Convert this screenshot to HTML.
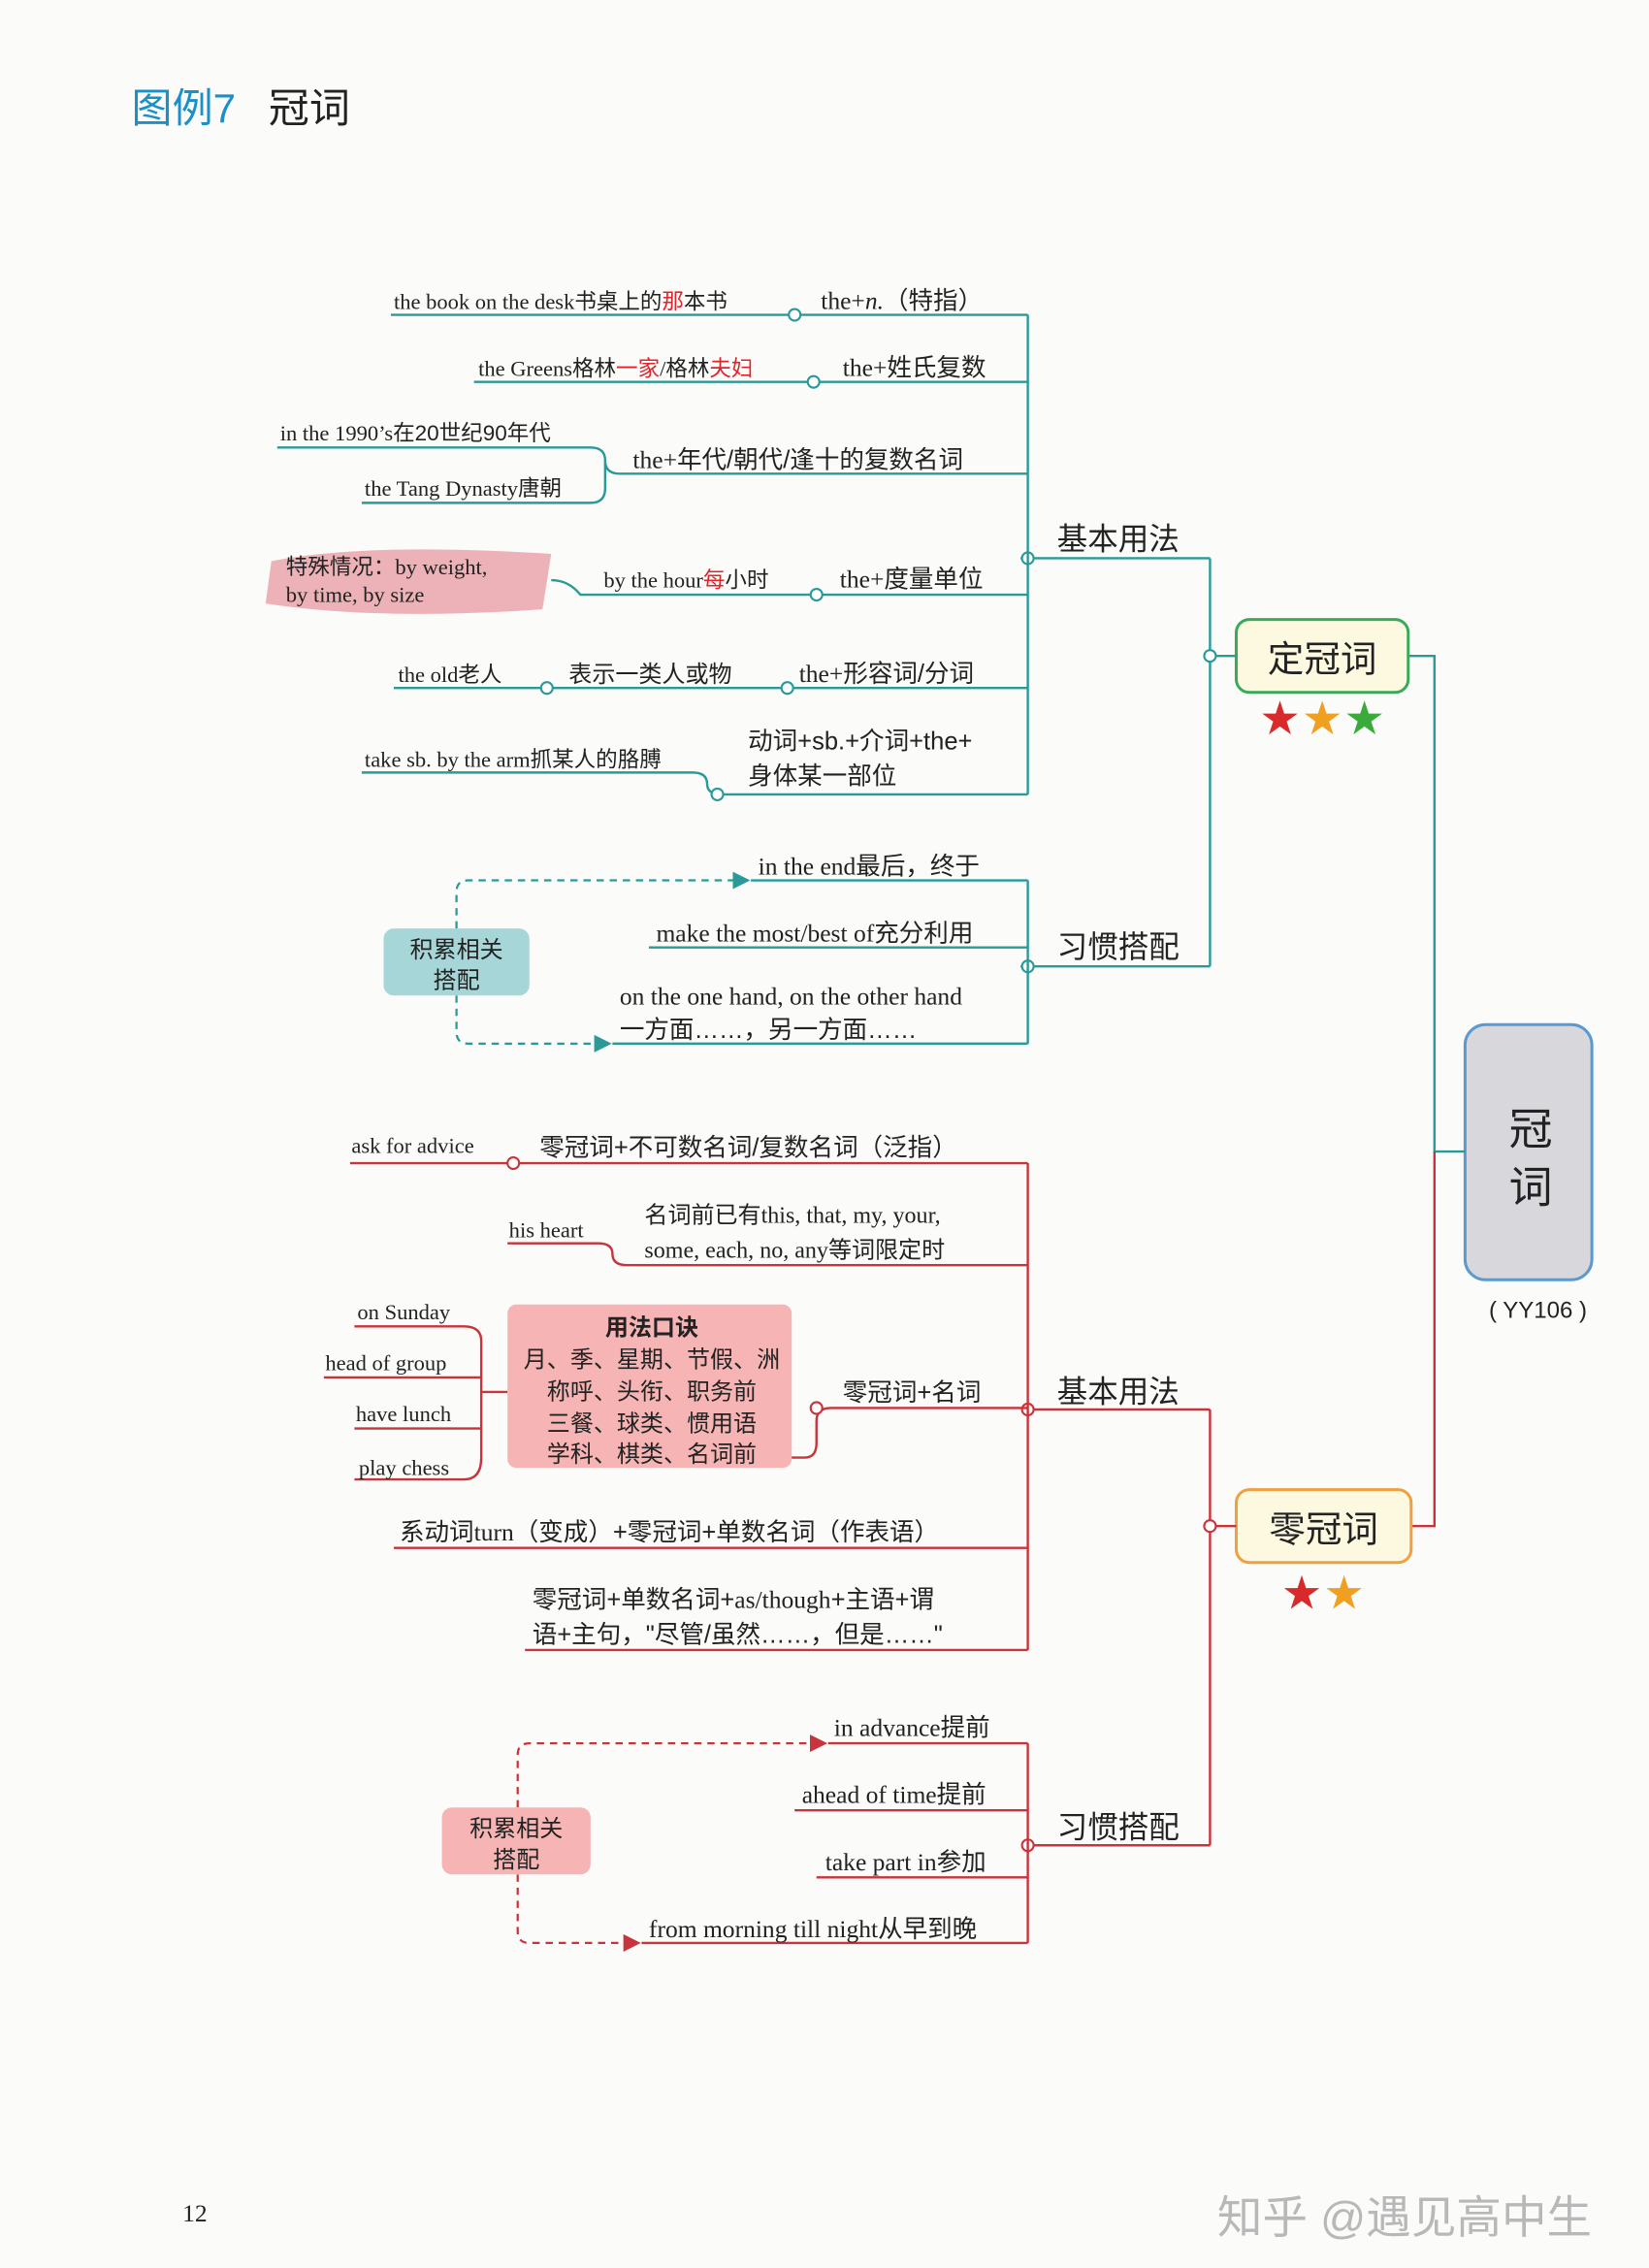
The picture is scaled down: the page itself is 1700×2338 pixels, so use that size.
<!DOCTYPE html>
<html><head><meta charset="utf-8"><style>
html,body{margin:0;padding:0;background:#fbfbf9;}
svg{display:block;}
text{font-family:"Liberation Serif","Noto Serif CJK SC","Noto Sans CJK SC",serif;font-size:16px;fill:#222;}
.cj{font-family:"Liberation Sans","Noto Sans CJK SC",sans-serif;}
.t{stroke:#2a9a98;stroke-width:1.6;fill:none;}
.r{stroke:#c8343c;stroke-width:1.6;fill:none;}
.ct{fill:#fff;stroke:#2a9a98;stroke-width:1.4;}
.cr{fill:#fff;stroke:#c8343c;stroke-width:1.4;}
.red{fill:#e0242c;}
</style></head><body>
<svg width="1700" height="2338" viewBox="0 0 1131 1556" xmlns="http://www.w3.org/2000/svg">
<defs>
<marker id="at" markerWidth="8" markerHeight="8" refX="7" refY="4" orient="auto"><path d="M0,0 L8,4 L0,8z" fill="#2a9a98"/></marker>
<marker id="ar" markerWidth="8" markerHeight="8" refX="7" refY="4" orient="auto"><path d="M0,0 L8,4 L0,8z" fill="#c8343c"/></marker>
</defs>
<rect width="1131" height="1556" fill="#fbfbf9"/>
<!-- title -->
<text x="90" y="84" class="cj" style="font-size:28px;fill:#1a8fc8">图例7</text>
<text x="184" y="84" class="cj" style="font-size:28px;fill:#222">冠词</text>

<!-- center node -->
<rect x="1005" y="703" width="87" height="175" rx="14" fill="#d8d8dc" stroke="#5a9ad0" stroke-width="2"/>
<text x="1050" y="785" class="cj" text-anchor="middle" style="font-size:30px">冠</text>
<text x="1050" y="825" class="cj" text-anchor="middle" style="font-size:30px">词</text>
<text x="1055" y="904" class="cj" text-anchor="middle" style="font-size:16px">( YY106 )</text>

<path class="t" d="M966,450 H984 V790 H1005"/>
<path class="r" d="M968,1047 H984 V790"/>

<!-- 定冠词 -->
<rect x="848" y="425" width="118" height="50" rx="9" fill="#fdf9e0" stroke="#3aaa5a" stroke-width="2"/>
<text x="907" y="461" class="cj" text-anchor="middle" style="font-size:25px">定冠词</text>
<text x="878" y="502" text-anchor="middle" style="font-size:26px;fill:#d82a2a" class="cj">★</text>
<text x="907" y="502" text-anchor="middle" style="font-size:26px;fill:#f0a020" class="cj">★</text>
<text x="936" y="502" text-anchor="middle" style="font-size:26px;fill:#3aaa3a" class="cj">★</text>
<path class="t" d="M830,383 V663"/>
<path class="t" d="M830,450 H848"/>
<circle class="ct" cx="830" cy="450" r="4"/>
<path class="t" d="M700,383 H830 M700,663 H830"/>
<text x="725" y="377" class="cj" style="font-size:21px">基本用法</text>
<text x="725" y="657" class="cj" style="font-size:21px">习惯搭配</text>
<circle class="ct" cx="705" cy="383" r="4"/>
<circle class="ct" cx="705" cy="663" r="4"/>

<path class="t" d="M705,216 V545"/>
<path class="t" d="M268,216 H705"/><circle class="ct" cx="545" cy="216" r="4"/>
<text x="270" y="212" style="font-size:15px">the book on the desk<tspan class="cj">书桌上的</tspan><tspan class="cj red">那</tspan><tspan class="cj">本书</tspan></text>
<text x="563" y="212" style="font-size:17px">the+<tspan font-style="italic">n.</tspan><tspan class="cj">（特指）</tspan></text>

<path class="t" d="M325,262 H705"/><circle class="ct" cx="558" cy="262" r="4"/>
<text x="328" y="258" style="font-size:15px">the Greens<tspan class="cj">格林</tspan><tspan class="cj red">一家</tspan>/<tspan class="cj">格林</tspan><tspan class="cj red">夫妇</tspan></text>
<text x="578" y="258" style="font-size:17px">the+<tspan class="cj">姓氏复数</tspan></text>

<path class="t" d="M190,307 H405 Q415,307 415,316 Q415,325 425,325 H705 M248,345 H405 Q415,345 415,335 V316"/>
<text x="192" y="302" style="font-size:15px">in the 1990’s<tspan class="cj">在20世纪90年代</tspan></text>
<text x="250" y="340" style="font-size:15px">the Tang Dynasty<tspan class="cj">唐朝</tspan></text>
<text x="434" y="321" style="font-size:17px">the+<tspan class="cj">年代/朝代/逢十的复数名词</tspan></text>

<path d="M186,385 Q250,372 378,380 L372,418 Q260,426 182,414z" fill="#e89aa0" opacity="0.75"/>
<text x="196" y="394" style="font-size:15px"><tspan class="cj">特殊情况：</tspan>by weight,</text>
<text x="196" y="413" style="font-size:15px">by time, by size</text>
<path class="t" d="M378,398 Q390,398 398,408 H705"/><circle class="ct" cx="560" cy="408" r="4"/>
<text x="414" y="403" style="font-size:15px">by the hour<tspan class="cj red">每</tspan><tspan class="cj">小时</tspan></text>
<text x="576" y="403" style="font-size:17px">the+<tspan class="cj">度量单位</tspan></text>

<path class="t" d="M270,472 H705"/><circle class="ct" cx="375" cy="472" r="4"/><circle class="ct" cx="540" cy="472" r="4"/>
<text x="273" y="468" style="font-size:15px">the old<tspan class="cj">老人</tspan></text>
<text x="390" y="468" class="cj" style="font-size:16px">表示一类人或物</text>
<text x="548" y="468" style="font-size:17px">the+<tspan class="cj">形容词/分词</tspan></text>

<path class="t" d="M248,530 H475 Q485,530 485,538 Q485,545 495,545 H705"/><circle class="ct" cx="492" cy="545" r="4"/>
<text x="250" y="526" style="font-size:15px">take sb. by the arm<tspan class="cj">抓某人的胳膊</tspan></text>
<text x="513" y="514" class="cj" style="font-size:17px">动词+sb.+介词+the+</text>
<text x="513" y="538" class="cj" style="font-size:17px">身体某一部位</text>

<path class="t" d="M705,604 V716"/>
<path class="t" d="M515,604 H705 M445,650 H705 M420,716 H705"/>
<text x="520" y="600" style="font-size:17px">in the end<tspan class="cj">最后，终于</tspan></text>
<text x="450" y="646" style="font-size:17px">make the most/best of<tspan class="cj">充分利用</tspan></text>
<text x="425" y="689" style="font-size:17px">on the one hand, on the other hand</text>
<text x="425" y="712" class="cj" style="font-size:17px">一方面……，另一方面……</text>
<path d="M313,637 V612 Q313,604 321,604 H513" stroke="#2a9a98" stroke-width="1.5" stroke-dasharray="5,4" fill="none" marker-end="url(#at)"/>
<path d="M313,683 V708 Q313,716 321,716 H418" stroke="#2a9a98" stroke-width="1.5" stroke-dasharray="5,4" fill="none" marker-end="url(#at)"/>
<rect x="263" y="637" width="100" height="46" rx="7" fill="#a6d6d8"/>
<text x="313" y="657" class="cj" text-anchor="middle" style="font-size:16px">积累相关</text>
<text x="313" y="678" class="cj" text-anchor="middle" style="font-size:16px">搭配</text>

<!-- 零冠词 -->
<rect x="848" y="1022" width="120" height="50" rx="9" fill="#fdf9e0" stroke="#f0a040" stroke-width="2"/>
<text x="908" y="1058" class="cj" text-anchor="middle" style="font-size:25px">零冠词</text>
<text x="893" y="1102" text-anchor="middle" style="font-size:26px;fill:#d82a2a" class="cj">★</text>
<text x="922" y="1102" text-anchor="middle" style="font-size:26px;fill:#f0a020" class="cj">★</text>
<path class="r" d="M830,967 V1266 M830,1047 H848"/>
<circle class="cr" cx="830" cy="1047" r="4"/>
<path class="r" d="M705,967 H830 M705,1266 H830"/>
<text x="725" y="962" class="cj" style="font-size:21px">基本用法</text>
<text x="725" y="1261" class="cj" style="font-size:21px">习惯搭配</text>
<circle class="cr" cx="705" cy="967" r="4"/>
<circle class="cr" cx="705" cy="1266" r="4"/>

<path class="r" d="M705,798 V1132"/>
<path class="r" d="M240,798 H705"/><circle class="cr" cx="352" cy="798" r="4"/>
<text x="241" y="791" style="font-size:15px">ask for advice</text>
<text x="370" y="793" class="cj" style="font-size:17px">零冠词+不可数名词/复数名词（泛指）</text>

<path class="r" d="M348,853 H410 Q420,853 420,860 Q420,868 430,868 H705"/>
<text x="349" y="849" style="font-size:15px">his heart</text>
<text x="442" y="839" style="font-size:16px"><tspan class="cj">名词前已有</tspan>this, that, my, your,</text>
<text x="442" y="863" style="font-size:16px">some, each, no, any<tspan class="cj">等词限定时</tspan></text>

<path class="r" d="M243,910 H318 Q330,910 330,920 V1000 Q330,1015 318,1015 H243 M222,945 H330 M243,980 H330 M330,955 H348"/>
<text x="245" y="905" style="font-size:15px">on Sunday</text>
<text x="223" y="940" style="font-size:15px">head of group</text>
<text x="244" y="975" style="font-size:15px">have lunch</text>
<text x="246" y="1012" style="font-size:15px">play chess</text>
<rect x="348" y="895" width="195" height="112" rx="6" fill="#f6b4b4"/>
<text x="447" y="916" class="cj" text-anchor="middle" style="font-size:16px;font-weight:bold">用法口诀</text>
<text x="447" y="938" class="cj" text-anchor="middle" style="font-size:16px">月、季、星期、节假、洲</text>
<text x="447" y="960" class="cj" text-anchor="middle" style="font-size:16px">称呼、头衔、职务前</text>
<text x="447" y="982" class="cj" text-anchor="middle" style="font-size:16px">三餐、球类、惯用语</text>
<text x="447" y="1003" class="cj" text-anchor="middle" style="font-size:16px">学科、棋类、名词前</text>
<path class="r" d="M543,1000 H552 Q560,1000 560,990 V975 Q560,966 570,966 H705"/><circle class="cr" cx="560" cy="966" r="4"/>
<text x="578" y="961" class="cj" style="font-size:17px">零冠词+名词</text>

<path class="r" d="M270,1062 H705"/>
<text x="274" y="1057" style="font-size:17px"><tspan class="cj">系动词</tspan>turn<tspan class="cj">（变成）+零冠词+单数名词（作表语）</tspan></text>

<path class="r" d="M360,1132 H705"/>
<text x="365" y="1103" style="font-size:17px"><tspan class="cj">零冠词+单数名词+</tspan>as/though<tspan class="cj">+主语+谓</tspan></text>
<text x="365" y="1127" class="cj" style="font-size:17px">语+主句，"尽管/虽然……，但是……"</text>

<path class="r" d="M705,1196 V1333"/>
<path class="r" d="M568,1196 H705 M545,1242 H705 M560,1288 H705 M440,1333 H705"/>
<text x="572" y="1191" style="font-size:17px">in advance<tspan class="cj">提前</tspan></text>
<text x="550" y="1237" style="font-size:17px">ahead of time<tspan class="cj">提前</tspan></text>
<text x="566" y="1283" style="font-size:17px">take part in<tspan class="cj">参加</tspan></text>
<text x="445" y="1329" style="font-size:17px">from morning till night<tspan class="cj">从早到晚</tspan></text>
<path d="M355,1240 V1204 Q355,1196 363,1196 H566" stroke="#c8343c" stroke-width="1.5" stroke-dasharray="5,4" fill="none" marker-end="url(#ar)"/>
<path d="M355,1286 V1325 Q355,1333 363,1333 H438" stroke="#c8343c" stroke-width="1.5" stroke-dasharray="5,4" fill="none" marker-end="url(#ar)"/>
<rect x="303" y="1240" width="102" height="46" rx="7" fill="#f6b4b4"/>
<text x="354" y="1260" class="cj" text-anchor="middle" style="font-size:16px">积累相关</text>
<text x="354" y="1281" class="cj" text-anchor="middle" style="font-size:16px">搭配</text>

<text x="125" y="1524" style="font-size:17px">12</text>
<text x="835" y="1532" class="cj" style="font-size:31px;fill:#b8b8b8">知乎 @遇见高中生</text>
</svg>
</body></html>
